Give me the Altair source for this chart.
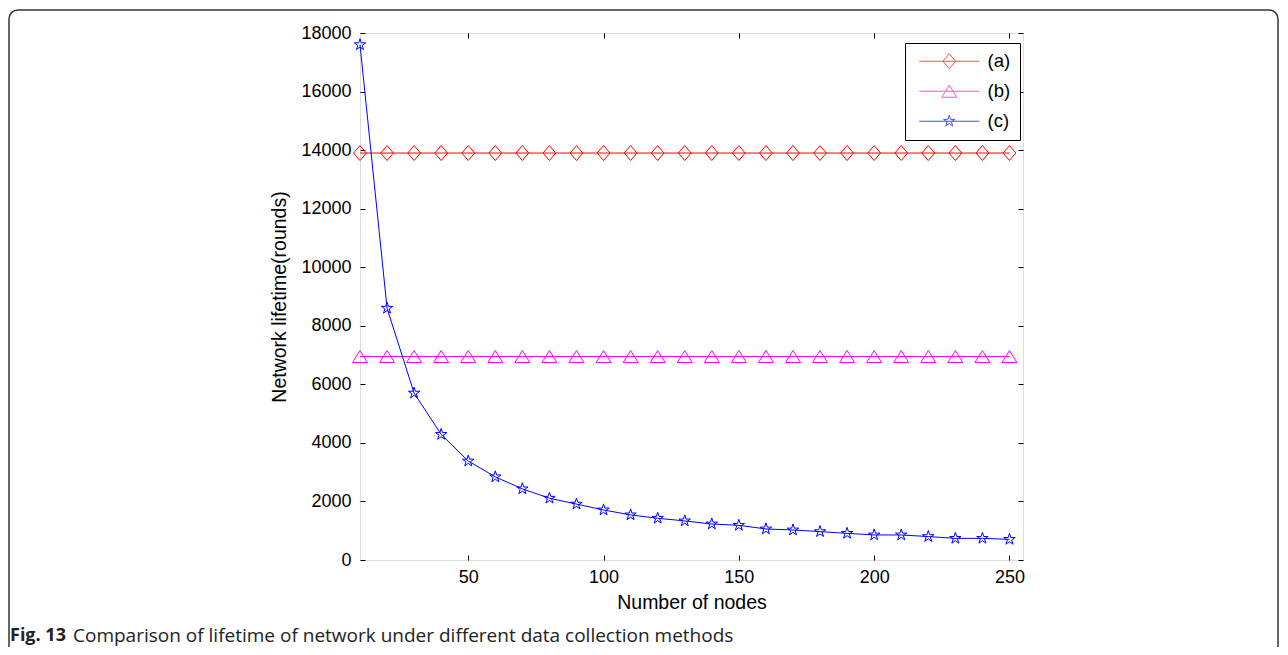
import altair as alt
import pandas as pd

# ---- data ----
nodes = [10, 20, 30, 40, 50, 60, 70, 80, 90, 100, 110, 120, 130,
         140, 150, 160, 170, 180, 190, 200, 210, 220, 230, 240, 250]
series_a = [13900, 13900, 13900, 13900, 13900, 13900, 13900, 13900, 13900,
            13900, 13900, 13900, 13900, 13900, 13900, 13900, 13900, 13900,
            13900, 13900, 13900, 13900, 13900, 13900, 13900]
series_b = [6950, 6950, 6950, 6950, 6950, 6950, 6950, 6950, 6950, 6950,
            6950, 6950, 6950, 6950, 6950, 6950, 6950, 6950, 6950, 6950,
            6950, 6950, 6950, 6950, 6950]
series_c = [17600, 8600, 5700, 4290, 3380, 2840, 2430, 2110, 1910, 1710,
            1540, 1425, 1335, 1230, 1185, 1060, 1025, 970, 910, 855,
            855, 800, 740, 740, 705]
names = ["(a)", "(b)", "(c)"]
colors = ["#ff0000", "#ff00ff", "#0000ff"]
x_ticks = [50, 100, 150, 200, 250]
y_ticks = [0, 2000, 4000, 6000, 8000, 10000, 12000, 14000, 16000, 18000]
caption_bold = "Fig. 13"
caption_rest = "Comparison of lifetime of network under different data collection methods"

# marker paths (unit square coordinates)
DIAMOND = "M0,-1L0.85,0L0,1L-0.85,0Z"
TRIANGLE = "M0,-0.8L1,0.8L-1,0.8Z"
STAR = ("M0,-0.8L0.179,-0.246L0.761,-0.247L0.289,0.094L0.47,0.647L0,0.304"
        "L-0.47,0.647L-0.289,0.094L-0.761,-0.247L-0.179,-0.246Z")
markers = [DIAMOND, TRIANGLE, STAR]
legend_symbols = ["M-4,0L4,0" + m for m in markers]

rows = []
for name, vals in zip(names, [series_a, series_b, series_c]):
    for n, v in zip(nodes, vals):
        rows.append({"nodes": n, "value": v, "series": name})
df = pd.DataFrame(rows)

W, H = 663, 527
FONT = "Liberation Sans"

xscale = alt.Scale(domain=[10, 255], nice=False, zero=False)
yscale = alt.Scale(domain=[0, 18000], nice=False, zero=True)
cscale = alt.Scale(domain=names, range=colors)

base = alt.Chart(df)

lines = base.mark_line(strokeWidth=1).encode(
    x=alt.X("nodes:Q", scale=xscale,
            axis=alt.Axis(orient="bottom", values=x_ticks, title="Number of nodes",
                          offset=-5, tickSize=5, domain=False, grid=False,
                          labelPadding=8, labelFontSize=18, labelFont=FONT,
                          labelColor="black", tickColor="black",
                          titleFont=FONT, titleFontSize=19.5, titleFontWeight="normal",
                          titleColor="black", titlePadding=7)),
    y=alt.Y("value:Q", scale=yscale,
            axis=alt.Axis(orient="left", values=y_ticks, title="Network lifetime(rounds)",
                          format="d", offset=-5, tickSize=5, domain=False, grid=False,
                          labelPadding=9, labelFontSize=18, labelFont=FONT,
                          labelColor="black", tickColor="black",
                          titleFont=FONT, titleFontSize=19.5, titleFontWeight="normal",
                          titleColor="black", titlePadding=11)),
    color=alt.Color("series:N", scale=cscale, legend=None),
    detail="series:N",
)

points = base.mark_point(filled=False, strokeWidth=1, size=225, opacity=1).encode(
    x=alt.X("nodes:Q", scale=xscale,
            axis=alt.Axis(orient="top", values=x_ticks, labels=False, title=None,
                          offset=-5, tickSize=5, domain=False, grid=False,
                          tickColor="black")),
    y=alt.Y("value:Q", scale=yscale,
            axis=alt.Axis(orient="right", values=y_ticks, labels=False, title=None,
                          offset=-5, tickSize=5, domain=False, grid=False,
                          tickColor="black")),
    color=alt.Color("series:N", scale=cscale, legend=None),
    shape=alt.Shape("series:N", scale=alt.Scale(domain=names, range=markers), legend=None),
)

leg = alt.Legend(orient="none", legendX=545, legendY=10, title=None,
                 strokeColor="black", fillColor="white", padding=9,
                 labelFont=FONT, labelFontSize=18.5, labelColor="black",
                 symbolSize=225, symbolStrokeWidth=1, rowPadding=11,
                 symbolOffset=26, labelOffset=29)

legend_layer = base.transform_filter(alt.datum.nodes < 0).mark_point(
    filled=False, strokeWidth=1, size=225).encode(
    x=alt.X("nodes:Q", scale=xscale, axis=None),
    y=alt.Y("value:Q", scale=yscale, axis=None),
    color=alt.Color("series:N", scale=cscale, legend=leg),
    shape=alt.Shape("series:N", scale=alt.Scale(domain=names, range=legend_symbols), legend=leg),
)

one = alt.Chart(pd.DataFrame({"k": [0]}))
frame = one.mark_rect(fill="transparent", stroke="#333333", strokeWidth=1.5,
                      cornerRadius=9).encode(
    x=alt.value(-351), x2=alt.value(918), y=alt.value(-23), y2=alt.value(640))

cap1 = one.mark_text(align="left", baseline="middle", font="Open Sans",
                     fontSize=18, fontWeight="bold", color="#222222").encode(
    x=alt.value(-350), y=alt.value(603), text=alt.value(caption_bold))
cap2 = one.mark_text(align="left", baseline="middle", font="Open Sans",
                     fontSize=19, color="#222222").encode(
    x=alt.value(-287), y=alt.value(603), text=alt.value(caption_rest))

chart = alt.layer(frame, lines, points, legend_layer, cap1, cap2).resolve_scale(
    color="independent", shape="independent"
).resolve_axis(x="independent", y="independent").properties(
    width=W, height=H,
    autosize=alt.AutoSizeParams(type="none"),
    padding={"left": 352, "top": 25, "right": 257, "bottom": 87},
).configure_view(stroke="black", strokeWidth=1).configure(background="white")

chart.save("out.html", embed_options={"renderer": "svg", "actions": False})
